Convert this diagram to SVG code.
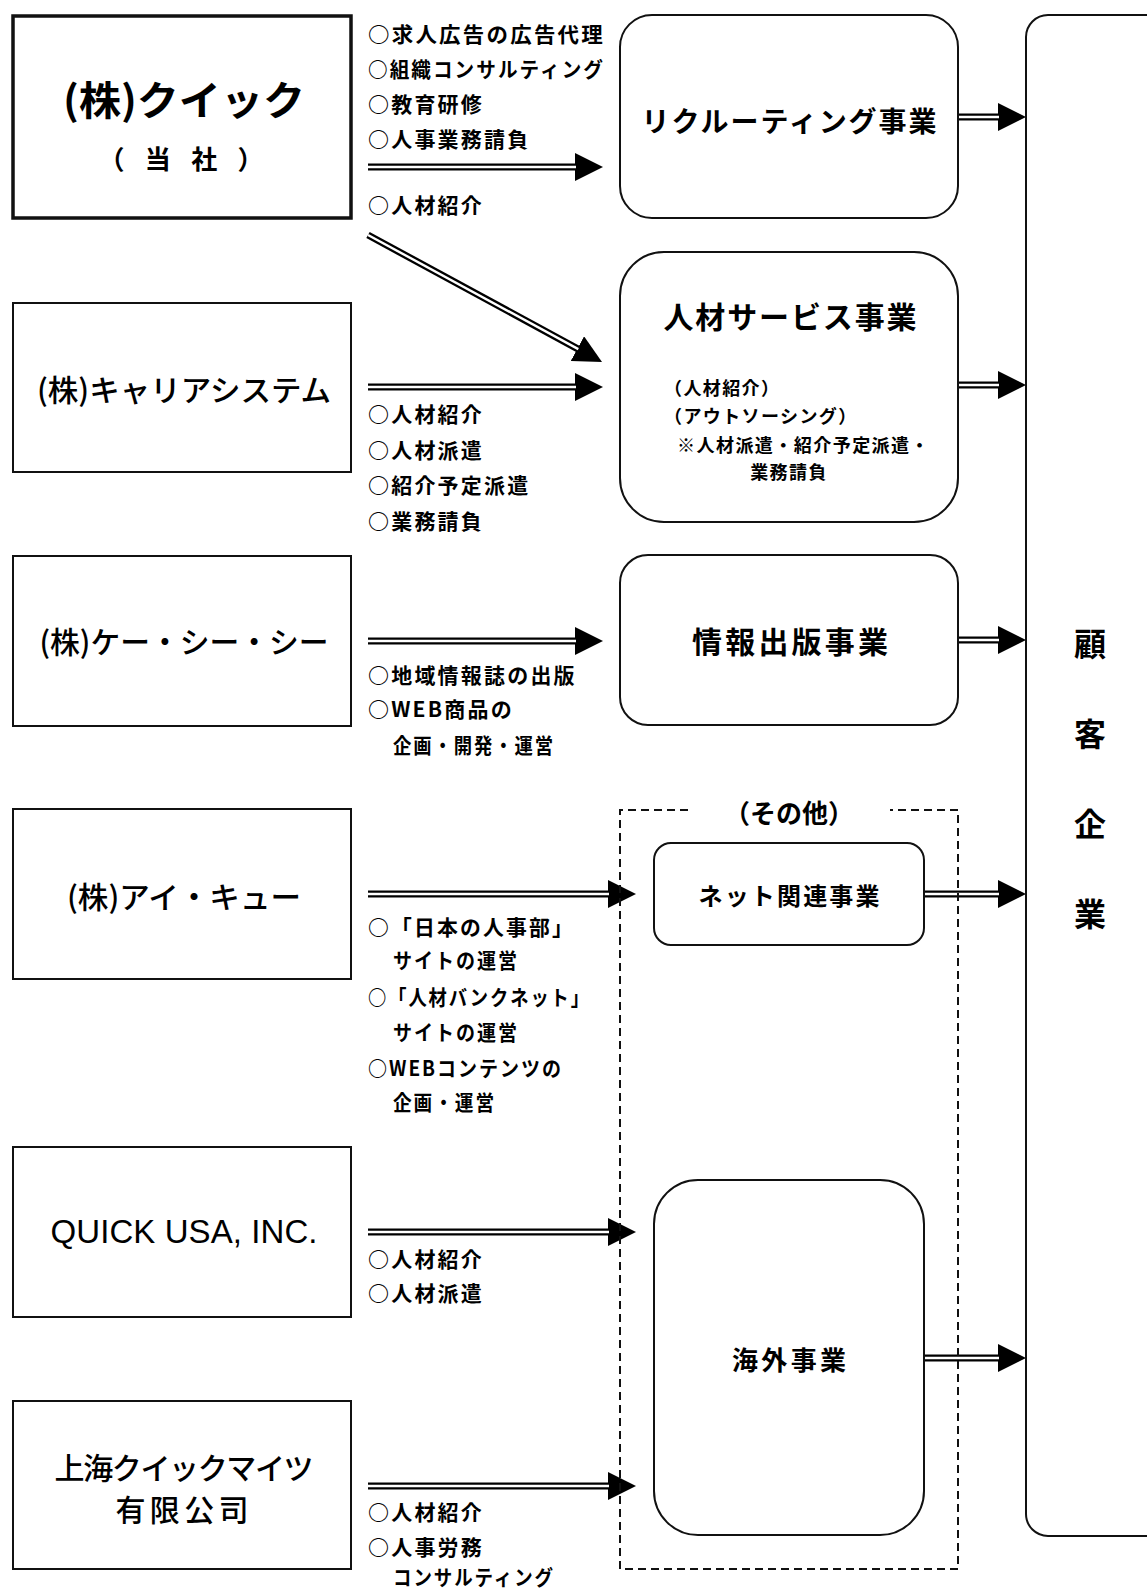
<svg xmlns="http://www.w3.org/2000/svg" width="1147" height="1589" viewBox="0 0 1147 1589">
<defs>
<style>
text{font-family:"Noto Sans CJK JP","Noto Sans CJK SC",sans-serif;fill:#000}
text.latin{font-family:"Liberation Sans",Arial,sans-serif}
.box{fill:#fff;stroke:#111;stroke-width:2}
.main{fill:#fff;stroke:#111;stroke-width:3.5}
.rbox{fill:#fff;stroke:#111;stroke-width:2}
.dash{fill:none;stroke:#111;stroke-width:2;stroke-dasharray:8 5}
.title{font-size:30px;font-weight:500}
.note{font-size:21px;font-weight:bold;letter-spacing:2.2px}
.small{font-size:18px;font-weight:bold;letter-spacing:1.4px}
.shaft{stroke:#000;stroke-width:7;fill:none}
.gap{stroke:#fff;stroke-width:2.4;fill:none}
</style>
<marker id="head" markerUnits="userSpaceOnUse" markerWidth="28" markerHeight="28" refX="14" refY="14" orient="auto">
<path d="M0,0 L28,14 L0,28 Z" fill="#000"/>
</marker>
</defs>
<rect width="1147" height="1589" fill="#fff"/>

<g id="connectors">
<line class="shaft" x1="368" y1="167" x2="589" y2="167" marker-end="url(#head)"/>
<line class="gap" x1="368" y1="167" x2="576" y2="167"/>
<line class="shaft" x1="368" y1="235" x2="589.7" y2="355.3" marker-end="url(#head)"/>
<line class="gap" x1="368" y1="235" x2="578.3" y2="349.1"/>
<line class="shaft" x1="368" y1="387" x2="589" y2="387" marker-end="url(#head)"/>
<line class="gap" x1="368" y1="387" x2="576" y2="387"/>
<line class="shaft" x1="368" y1="641" x2="589" y2="641" marker-end="url(#head)"/>
<line class="gap" x1="368" y1="641" x2="576" y2="641"/>
<line class="shaft" x1="368" y1="894" x2="622" y2="894" marker-end="url(#head)"/>
<line class="gap" x1="368" y1="894" x2="609" y2="894"/>
<line class="shaft" x1="368" y1="1232" x2="622" y2="1232" marker-end="url(#head)"/>
<line class="gap" x1="368" y1="1232" x2="609" y2="1232"/>
<line class="shaft" x1="368" y1="1486" x2="622" y2="1486" marker-end="url(#head)"/>
<line class="gap" x1="368" y1="1486" x2="609" y2="1486"/>
<line class="shaft" x1="958" y1="117" x2="1012" y2="117" marker-end="url(#head)"/>
<line class="gap" x1="958" y1="117" x2="999" y2="117"/>
<line class="shaft" x1="958" y1="385" x2="1012" y2="385" marker-end="url(#head)"/>
<line class="gap" x1="958" y1="385" x2="999" y2="385"/>
<line class="shaft" x1="958" y1="640" x2="1012" y2="640" marker-end="url(#head)"/>
<line class="gap" x1="958" y1="640" x2="999" y2="640"/>
<line class="shaft" x1="924" y1="894" x2="1012" y2="894" marker-end="url(#head)"/>
<line class="gap" x1="924" y1="894" x2="999" y2="894"/>
<line class="shaft" x1="924" y1="1358" x2="1012" y2="1358" marker-end="url(#head)"/>
<line class="gap" x1="924" y1="1358" x2="999" y2="1358"/>
</g>

<g id="other-group">
<path class="dash" d="M688,810 H620 V1569 H958 V810 H890"/>
<text x="789" y="811" font-size="26" font-weight="bold" text-anchor="middle" dominant-baseline="central">（その他）</text>
</g>

<g id="quick">
<rect class="main" x="13" y="16" width="338" height="202"/>
<text x="184" y="98" font-size="40" font-weight="bold" text-anchor="middle" dominant-baseline="central" textLength="242" lengthAdjust="spacingAndGlyphs">(株)クイック</text>
<text x="181" y="157" font-size="26" font-weight="bold" text-anchor="middle" dominant-baseline="central" textLength="165" lengthAdjust="spacing">（ 当 社 ）</text>
<text class="note" x="368" y="33" dominant-baseline="central" textLength="237" lengthAdjust="spacingAndGlyphs">○求人広告の広告代理</text>
<text class="note" x="368" y="68" dominant-baseline="central" textLength="237" lengthAdjust="spacingAndGlyphs">○組織コンサルティング</text>
<text class="note" x="368" y="103" dominant-baseline="central">○教育研修</text>
<text class="note" x="368" y="138" dominant-baseline="central">○人事業務請負</text>
<text class="note" x="368" y="204" dominant-baseline="central">○人材紹介</text>
</g>

<g id="career">
<rect class="box" x="13" y="303" width="338" height="169"/>
<text class="title" x="184" y="388" text-anchor="middle" dominant-baseline="central" textLength="294" lengthAdjust="spacingAndGlyphs">(株)キャリアシステム</text>
<text class="note" x="368" y="413" dominant-baseline="central">○人材紹介</text>
<text class="note" x="368" y="449" dominant-baseline="central">○人材派遣</text>
<text class="note" x="368" y="484" dominant-baseline="central">○紹介予定派遣</text>
<text class="note" x="368" y="520" dominant-baseline="central">○業務請負</text>
</g>

<g id="kcc">
<rect class="box" x="13" y="556" width="338" height="170"/>
<text class="title" x="184" y="640" text-anchor="middle" dominant-baseline="central" textLength="289" lengthAdjust="spacingAndGlyphs">(株)ケー・シー・シー</text>
<text class="note" x="368" y="674" dominant-baseline="central">○地域情報誌の出版</text>
<text class="note" x="368" y="708" dominant-baseline="central">○WEB商品の</text>
<text class="note" x="393" y="744" dominant-baseline="central" textLength="162" lengthAdjust="spacingAndGlyphs">企画・開発・運営</text>
</g>

<g id="iq">
<rect class="box" x="13" y="809" width="338" height="170"/>
<text class="title" x="184" y="895" text-anchor="middle" dominant-baseline="central" textLength="234" lengthAdjust="spacingAndGlyphs">(株)アイ・キュー</text>
<text class="note" x="368" y="926" dominant-baseline="central" textLength="207" lengthAdjust="spacingAndGlyphs">○「日本の人事部」</text>
<text class="note" x="393" y="959" dominant-baseline="central" textLength="126" lengthAdjust="spacingAndGlyphs">サイトの運営</text>
<text class="note" x="368" y="996" dominant-baseline="central" textLength="223" lengthAdjust="spacingAndGlyphs">○「人材バンクネット」</text>
<text class="note" x="393" y="1031" dominant-baseline="central" textLength="126" lengthAdjust="spacingAndGlyphs">サイトの運営</text>
<text class="note" x="368" y="1067" dominant-baseline="central" textLength="195" lengthAdjust="spacingAndGlyphs">○WEBコンテンツの</text>
<text class="note" x="393" y="1101" dominant-baseline="central" textLength="103" lengthAdjust="spacingAndGlyphs">企画・運営</text>
</g>

<g id="quick-usa">
<rect class="box" x="13" y="1147" width="338" height="170"/>
<text class="latin" x="184" y="1243" font-size="33" text-anchor="middle" textLength="267" lengthAdjust="spacing">QUICK USA, INC.</text>
<text class="note" x="368" y="1258" dominant-baseline="central">○人材紹介</text>
<text class="note" x="368" y="1292" dominant-baseline="central">○人材派遣</text>
</g>

<g id="shanghai">
<rect class="box" x="13" y="1401" width="338" height="168"/>
<text class="title" x="184" y="1466" font-size="31" text-anchor="middle" dominant-baseline="central" textLength="259" lengthAdjust="spacing">上海クイックマイツ</text>
<text class="title" x="182" y="1508" font-size="31" text-anchor="middle" dominant-baseline="central" textLength="133" lengthAdjust="spacing">有限公司</text>
<text class="note" x="368" y="1511" dominant-baseline="central">○人材紹介</text>
<text class="note" x="368" y="1546" dominant-baseline="central">○人事労務</text>
<text class="note" x="393" y="1576" dominant-baseline="central" textLength="162" lengthAdjust="spacingAndGlyphs">コンサルティング</text>
</g>

<g id="recruiting">
<rect class="rbox" x="620" y="15" width="338" height="203" rx="32" ry="32"/>
<text x="789" y="120" font-size="28" font-weight="bold" text-anchor="middle" dominant-baseline="central" textLength="295" lengthAdjust="spacing">リクルーティング事業</text>
</g>

<g id="jinzai">
<rect class="rbox" x="620" y="252" width="338" height="270" rx="44" ry="44"/>
<text x="790" y="315" font-size="30" font-weight="bold" text-anchor="middle" dominant-baseline="central" textLength="253" lengthAdjust="spacing">人材サービス事業</text>
<text class="small" x="664" y="387" dominant-baseline="central">（人材紹介）</text>
<text class="small" x="664" y="415" dominant-baseline="central">（アウトソーシング）</text>
<text class="small" x="677" y="444" dominant-baseline="central" textLength="253" lengthAdjust="spacingAndGlyphs">※人材派遣・紹介予定派遣・</text>
<text class="small" x="789" y="471" text-anchor="middle" dominant-baseline="central">業務請負</text>
</g>

<g id="joho">
<rect class="rbox" x="620" y="555" width="338" height="170" rx="28" ry="28"/>
<text x="790" y="640" font-size="30" font-weight="bold" text-anchor="middle" dominant-baseline="central" textLength="196" lengthAdjust="spacing">情報出版事業</text>
</g>

<g id="net">
<rect class="rbox" x="654" y="843" width="270" height="102" rx="17" ry="17"/>
<text x="789" y="894" font-size="24" font-weight="bold" text-anchor="middle" dominant-baseline="central" textLength="181" lengthAdjust="spacing">ネット関連事業</text>
</g>

<g id="overseas">
<rect class="rbox" x="654" y="1180" width="270" height="355" rx="44" ry="44"/>
<text x="789" y="1358" font-size="26" font-weight="bold" text-anchor="middle" dominant-baseline="central" textLength="114" lengthAdjust="spacing">海外事業</text>
</g>

<g id="customer">
<rect class="rbox" x="1026" y="15" width="160" height="1521" rx="22" ry="22"/>
<text x="1090" y="642" font-size="32" font-weight="bold" text-anchor="middle" dominant-baseline="central">顧</text>
<text x="1090" y="732" font-size="32" font-weight="bold" text-anchor="middle" dominant-baseline="central">客</text>
<text x="1090" y="822" font-size="32" font-weight="bold" text-anchor="middle" dominant-baseline="central">企</text>
<text x="1090" y="912" font-size="32" font-weight="bold" text-anchor="middle" dominant-baseline="central">業</text>
</g>
</svg>
